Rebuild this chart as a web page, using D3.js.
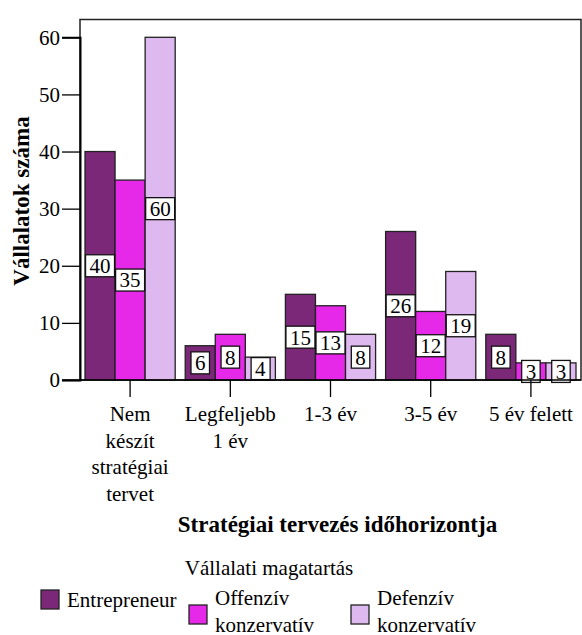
<!DOCTYPE html>
<html>
<head>
  <meta charset="utf-8">
  <script src="https://d3js.org/d3.v7.min.js"></script>
  <style>
    body { margin: 0; background: #fff; }
  </style>
</head>
<body>
<script>
  "use strict";

  var categories = [
    ["Nem", "készít", "stratégiai", "tervet"],
    ["Legfeljebb", "1 év"],
    ["1-3 év"],
    ["3-5 év"],
    ["5 év felett"]
  ];
  var seriesNames = [["Entrepreneur"], ["Offenzív", "konzervatív"], ["Defenzív", "konzervatív"]];
  var entrepreneur = [40, 6, 15, 26, 8];
  var offenziv = [35, 8, 13, 12, 3];
  var defenziv = [60, 4, 8, 19, 3];
  var yTicks = [0, 10, 20, 30, 40, 50, 60];
  var colors = ["#7b2879", "#e629e8", "#ddb9ef"];

  var width = 582, height = 635;
  var plotLeft = 80, plotRight = 581, plotTop = 19.5, plotBottom = 380;
  var serif = "Liberation Serif";

  var svg = d3.select("body").append("svg")
      .attr("width", width)
      .attr("height", height)
      .attr("font-family", serif);

  var x0 = d3.scaleBand()
      .domain(d3.range(categories.length))
      .range([plotLeft, plotRight])
      .paddingInner(0.1)
      .paddingOuter(0.05);

  var x1 = d3.scaleBand()
      .domain([0, 1, 2])
      .range([0, x0.bandwidth()]);

  var y = d3.scaleLinear()
      .domain([0, 60])
      .range([plotBottom, 37.3]);

  // frame
  svg.append("rect")
      .attr("x", plotLeft).attr("y", plotTop)
      .attr("width", plotRight - plotLeft).attr("height", plotBottom - plotTop)
      .attr("fill", "none")
      .attr("stroke", "#222")
      .attr("stroke-width", 1.5);

  var series = [entrepreneur, offenziv, defenziv];
  var rows = [];
  series.forEach(function(vals, s) {
    vals.forEach(function(v, i) { rows.push({s: s, i: i, v: v}); });
  });

  // bars
  svg.append("g").selectAll("rect")
      .data(rows)
    .enter().append("rect")
      .attr("x", function(d) { return x0(d.i) + x1(d.s); })
      .attr("y", function(d) { return y(d.v); })
      .attr("width", x1.bandwidth())
      .attr("height", function(d) { return y(0) - y(d.v); })
      .attr("fill", function(d) { return colors[d.s]; })
      .attr("stroke", "#222")
      .attr("stroke-width", 1.3);

  // value labels in boxes, at half bar height
  var lab = svg.append("g").selectAll("g")
      .data(rows)
    .enter().append("g")
      .attr("transform", function(d) {
        return "translate(" + (x0(d.i) + x1(d.s) + x1.bandwidth() / 2) + "," + y(d.v / 2) + ")";
      });

  lab.append("text")
      .attr("text-anchor", "middle")
      .attr("dy", "0.35em")
      .attr("font-family", serif)
      .attr("font-size", 21)
      .text(function(d) { return d.v; });

  lab.each(function() {
    var g = d3.select(this);
    var bb = g.select("text").node().getBBox();
    g.insert("rect", "text")
        .attr("x", bb.x - 4)
        .attr("y", -11)
        .attr("width", bb.width + 8)
        .attr("height", 22)
        .attr("fill", "#fff")
        .attr("stroke", "#111")
        .attr("stroke-width", 1.3);
  });

  // y axis
  var yAxis = svg.append("g")
      .attr("transform", "translate(" + plotLeft + ",0)")
      .call(d3.axisLeft(y).tickValues(yTicks).tickSize(18).tickPadding(2).tickFormat(d3.format("d")))
      .attr("font-family", serif)
      .attr("font-size", 21);
  yAxis.select(".domain").attr("stroke", "#000").attr("stroke-width", 2);
  yAxis.selectAll(".tick line").attr("stroke", "#000").attr("stroke-width", 1.3);
  yAxis.selectAll(".tick text").attr("fill", "#000");

  // x axis
  var xAxis = svg.append("g")
      .attr("transform", "translate(0," + plotBottom + ")")
      .call(d3.axisBottom(x0).tickSize(17).tickFormat(""));
  xAxis.select(".domain").remove();
  xAxis.selectAll(".tick line").attr("stroke", "#000").attr("stroke-width", 1.3);
  svg.append("line")
      .attr("x1", 62).attr("x2", plotRight)
      .attr("y1", plotBottom).attr("y2", plotBottom)
      .attr("stroke", "#000").attr("stroke-width", 1.5);

  var catLab = svg.append("g").selectAll("text")
      .data(categories)
    .enter().append("text")
      .attr("text-anchor", "middle")
      .attr("x", function(d, i) { return x0(i) + x0.bandwidth() / 2; })
      .attr("y", 421)
      .attr("font-family", serif)
      .attr("font-size", 21);
  catLab.selectAll("tspan")
      .data(function(d) { return d; })
    .enter().append("tspan")
      .attr("x", function() { return d3.select(this.parentNode).attr("x"); })
      .attr("dy", function(d, j) { return j ? 26.5 : 0; })
      .text(function(d) { return d; });

  // axis titles
  svg.append("text")
      .attr("x", 337.5).attr("y", 532)
      .attr("text-anchor", "middle")
      .attr("font-family", serif)
      .attr("font-size", 23)
      .attr("font-weight", "bold")
      .text("Stratégiai tervezés időhorizontja");

  svg.append("text")
      .attr("transform", "translate(29,201) rotate(-90)")
      .attr("text-anchor", "middle")
      .attr("font-family", serif)
      .attr("font-size", 23)
      .attr("font-weight", "bold")
      .text("Vállalatok száma");

  // legend
  svg.append("text")
      .attr("x", 269).attr("y", 575)
      .attr("text-anchor", "middle")
      .attr("font-family", serif)
      .attr("font-size", 21)
      .text("Vállalati magatartás");

  var legX = [41, 189, 351];
  seriesNames.forEach(function(name, s) {
    var two = name.length > 1;
    svg.append("rect")
        .attr("x", legX[s]).attr("y", two ? 605 : 590)
        .attr("width", 18).attr("height", 19)
        .attr("fill", colors[s])
        .attr("stroke", "#222")
        .attr("stroke-width", 1.3);
    var t = svg.append("text")
        .attr("x", legX[s] + 26)
        .attr("y", two ? 605 : 607)
        .attr("font-family", serif)
        .attr("font-size", 21);
    name.forEach(function(line, j) {
      t.append("tspan")
          .attr("x", legX[s] + 26)
          .attr("dy", j ? 26.5 : 0)
          .text(line);
    });
  });
</script>
</body>
</html>
